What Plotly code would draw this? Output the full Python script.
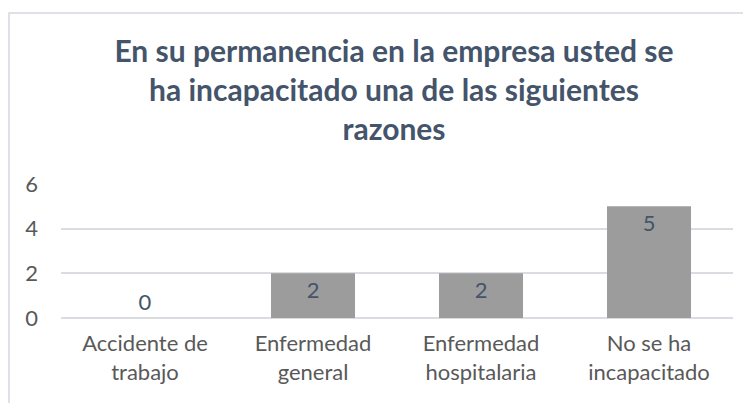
import plotly.graph_objects as go

categorias = ["Accidente de<br>trabajo", "Enfermedad<br>general", "Enfermedad<br>hospitalaria", "No se ha<br>incapacitado"]
valores = [0, 2, 2, 5]
titulo = "En su permanencia en la empresa usted se<br>ha incapacitado una de las siguientes<br>razones"

# la pagina tiene un margen de 8px, las medidas van en coordenadas de la figura
W, H = 751, 403
left, right, top, bottom = 53, 26, 176, 93
pw = W - left - right
ph = H - top - bottom

fig = go.Figure()
fig.add_trace(go.Bar(
    x=categorias,
    y=valores,
    marker=dict(color="#9c9c9c", line=dict(width=0)),
    text=[str(v) for v in valores],
    textposition=["outside", "inside", "inside", "inside"],
    insidetextanchor="end",
    textfont=dict(size=22, color="#44546a", family="Lato"),
    cliponaxis=False,
))

# borde del area del grafico
fig.add_shape(type="rect", xref="paper", yref="paper",
              x0=(1 - left) / pw, x1=(W + 20 - left) / pw,
              y0=-(H + 20 - top - ph) / ph, y1=(H - 5 - bottom) / ph,
              line=dict(color="#d3d7dd", width=1.5), layer="above")

fig.update_layout(
    width=W, height=H,
    margin=dict(l=left, r=right, t=top, b=bottom),
    paper_bgcolor="white", plot_bgcolor="white",
    showlegend=False,
    bargap=0.5,
    title=dict(text=titulo, x=386 / W, xanchor="center", y=1 - 54 / H, yanchor="top",
               font=dict(family="Lato", size=30, color="#44546a", weight="bold")),
    font=dict(family="Lato", size=22, color="#595959"),
)
fig.update_yaxes(range=[0, 6], dtick=2, showgrid=True, gridcolor="#d9dce1", gridwidth=1.5,
                 zeroline=True, zerolinecolor="#d9dce1", zerolinewidth=1.5,
                 showline=False, ticklabelstandoff=22, tickfont=dict(size=22, color="#595959"))
fig.update_xaxes(showline=False, showgrid=False, ticklabelstandoff=10,
                 tickfont=dict(size=22, color="#595959"))

fig.write_html("out.html")
